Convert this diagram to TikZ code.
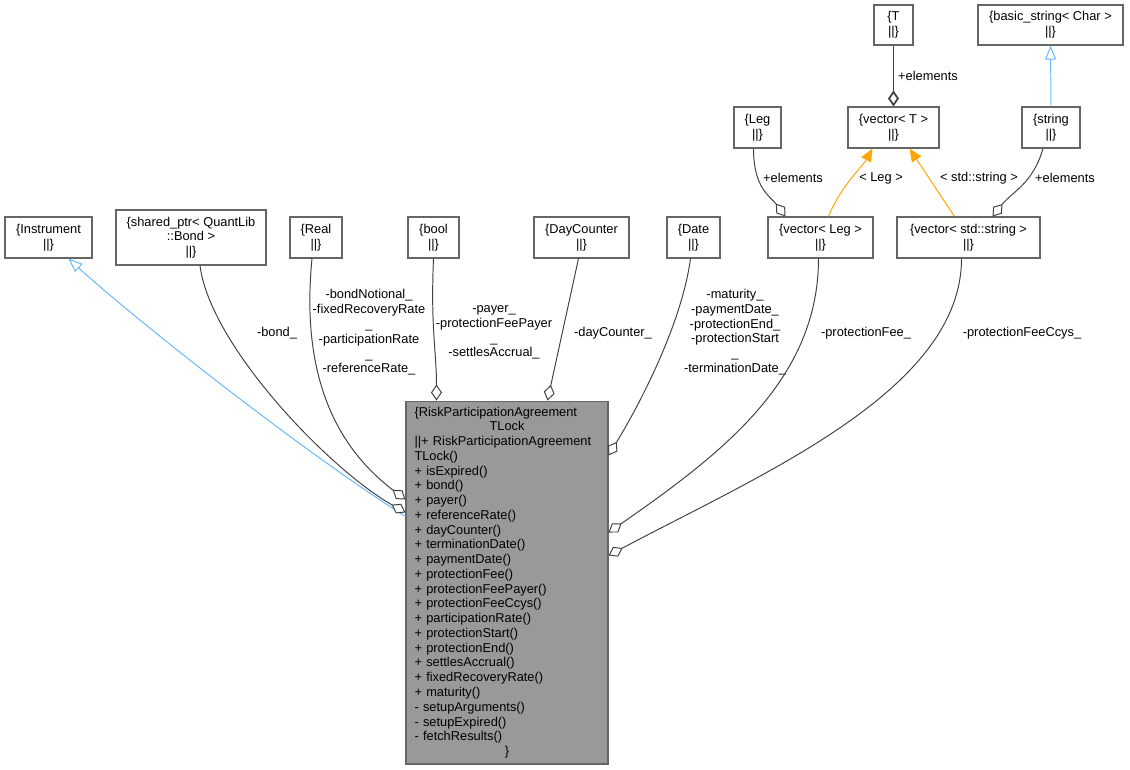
\documentclass[tikz,border=0pt]{standalone}
\usepackage{fontspec}
\setmainfont{Liberation Sans}
\usetikzlibrary{arrows.meta,calc}
\definecolor{edgegray}{HTML}{404040}
\definecolor{boxgray}{HTML}{666666}
\definecolor{mainfill}{HTML}{999999}
\definecolor{inhblue}{HTML}{63B8FF}
\definecolor{tplorange}{HTML}{FFA500}
\begin{document}
\begin{tikzpicture}[x=0.02cm, y=-0.02cm,
  every node/.style={font=\fontsize{7.3}{8.4}\selectfont},
  cls/.style={draw=boxgray, line width=0.6pt, fill=white, align=center, inner sep=0pt, minimum height=0.82cm},
  lbl/.style={align=center, inner sep=0pt},
  member/.style={draw=edgegray, line width=0.55pt, -{Diamond[fill=white, length=0.32cm, width=0.22cm]}},
  inherit/.style={draw=inhblue, line width=0.55pt, -{Triangle[open, fill=white, length=0.28cm, width=0.22cm]}},
  tmpl/.style={draw=tplorange, line width=0.55pt, -{Triangle[fill=tplorange, length=0.26cm, width=0.22cm]}}]
  \useasboundingbox (0,0) rectangle (1130,769);

  % --- Classes (positions chosen to match the drawing) ---
  \node[cls, minimum width=1.74cm] (instr) at (48.5,237.5) {\{Instrument\\||\}};
  \node[cls, minimum width=3cm, minimum height=1.1cm] (bondptr) at (191,237.5) {\{shared\_ptr< QuantLib\\::Bond >\\||\}};
  \node[cls, minimum width=1.04cm] (real) at (316,237.5) {\{Real\\||\}};
  \node[cls, minimum width=1.02cm] (bool) at (433.5,237.5) {\{bool\\||\}};
  \node[cls, minimum width=1.9cm] (dayc) at (581.5,237.5) {\{DayCounter\\||\}};
  \node[cls, minimum width=1.06cm] (date) at (693.5,237.5) {\{Date\\||\}};
  \node[cls, minimum width=2.1cm] (vecleg) at (820.5,237.5) {\{vector< Leg >\\||\}};
  \node[cls, minimum width=2.86cm] (vecstr) at (968.5,237.5) {\{vector< std::string >\\||\}};

  \node[cls, minimum width=0.94cm] (leg) at (757.5,127.5) {\{Leg\\||\}};
  \node[cls, minimum width=1.82cm] (vect) at (893.5,127.5) {\{vector< T >\\||\}};
  \node[cls, minimum width=1.16cm] (string) at (1051,127.5) {\{string\\||\}};

  \node[cls, minimum width=0.78cm, minimum height=0.8cm] (tparam) at (893.5,25) {\{T\\||\}};
  \node[cls, minimum width=2.9cm, minimum height=0.8cm] (basicstr) at (1050.5,25) {\{basic\_string< Char >\\||\}};

  % --- Main class ---
  \node[draw=boxgray, line width=0.6pt, fill=mainfill, minimum width=4.04cm, minimum height=7.26cm,
        text width=3.7cm, inner xsep=0.17cm, inner ysep=0pt, align=left] (rpa) at (507,582.5)
  {\{RiskParticipationAgreement\\
   \makebox[3.7cm][c]{TLock}\\
   ||+ RiskParticipationAgreement\\
   TLock()\\
   + isExpired()\\
   + bond()\\
   + payer()\\
   + referenceRate()\\
   + dayCounter()\\
   + terminationDate()\\
   + paymentDate()\\
   + protectionFee()\\
   + protectionFeePayer()\\
   + protectionFeeCcys()\\
   + participationRate()\\
   + protectionStart()\\
   + protectionEnd()\\
   + settlesAccrual()\\
   + fixedRecoveryRate()\\
   + maturity()\\
   - setupArguments()\\
   - setupExpired()\\
   - fetchResults()\\
   \makebox[3.7cm][c]{\}}};

  % --- Edge labels ---
  \node[lbl] (lbond) at (277,333) {-bond\_};
  \node[lbl] (lreal) at (369,332.5) {-bondNotional\_\\-fixedRecoveryRate\\\_\\-participationRate\\\_\\-referenceRate\_};
  \node[lbl] (lbool) at (494,332.5) {-payer\_\\-protectionFeePayer\\\_\\-settlesAccrual\_};
  \node[lbl] (lday) at (613,333) {-dayCounter\_};
  \node[lbl] (ldate) at (735,332) {-maturity\_\\-paymentDate\_\\-protectionEnd\_\\-protectionStart\\\_\\-terminationDate\_};
  \node[lbl] (lfee) at (866,333) {-protectionFee\_};
  \node[lbl] (lccys) at (1022,333) {-protectionFeeCcys\_};
  \node[lbl] (lelt) at (928,76) {+elements};
  \node[lbl] (lelleg) at (793,178) {+elements};
  \node[lbl] (lleg) at (881,178) {< Leg >};
  \node[lbl] (lstd) at (979,178) {< std::string >};
  \node[lbl] (lelstr) at (1065,178) {+elements};

  % --- Edges (matching the picture) ---
  \draw[inherit] ($(rpa.north west)+(0,116)$) .. controls +(-106,-67) and +(62,57) .. ($(instr.south)+(20,0)$);
  \draw[member] ($(bondptr.south)+(9,0)$) .. controls +(10,80) and +(-76,-43) .. ($(rpa.north west)+(0,112)$);
  \draw[member] ($(real.south)+(-4,0)$) .. controls +(-12,122) and +(-66,-50) .. ($(rpa.north west)+(0,99)$);
  \draw[member] (bool.south) .. controls +(-3,70) and +(0,-50) .. ($(rpa.north west)+(31,0)$);
  \draw[member] ($(dayc.south)+(-3,0)$) -- ($(rpa.north west)+(142,0)$);
  \draw[member] ($(date.south)+(-3,0)$) .. controls +(-8,60) and +(37,-61) .. ($(rpa.north east)+(0,55)$);
  \draw[member] ($(vecleg.south)+(-2,0)$) .. controls +(0,122) and +(112,-78) .. ($(rpa.north east)+(0,132)$);
  \draw[member] ($(vecstr.south)+(-7,0)$) .. controls +(0,132) and +(152,-81) .. ($(rpa.north east)+(0,155)$);

  \draw[member, line width=1pt] (tparam.south) -- (vect.north);
  \draw[member] ($(leg.south)+(-4,0)$) .. controls +(0,40) and +(-15,-20) .. ($(vecleg.north west)+(18,0)$);
  \draw[member] ($(string.south)+(-8,0)$) .. controls +(-10,35) and +(20,-25) .. ($(vecstr.north west)+(96,0)$);
  \draw[tmpl] ($(vecleg.north west)+(61,0)$) .. controls +(12,-30) and +(-10,18) .. ($(vect.south west)+(25,0)$);
  \draw[tmpl] ($(vecstr.north west)+(58,0)$) -- ($(vect.south west)+(62,0)$);
  \draw[inherit] (string.north) -- (basicstr.south);
\end{tikzpicture}
\end{document}
